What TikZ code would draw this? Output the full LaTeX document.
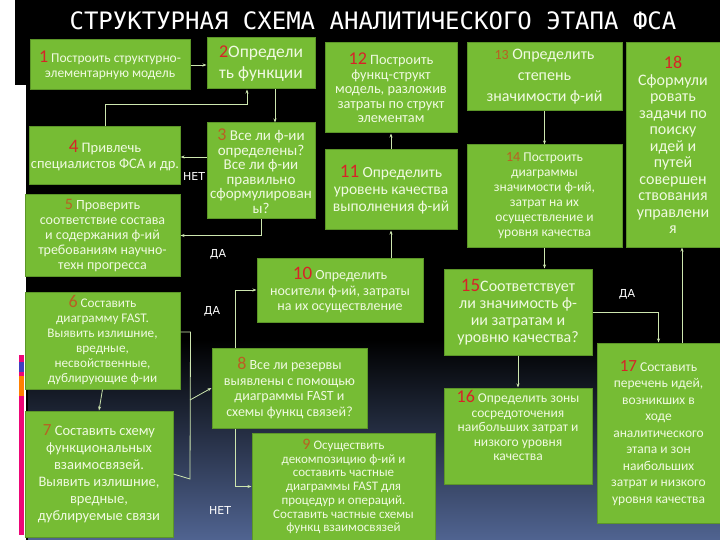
\documentclass[tikz,border=0pt]{standalone}
\usepackage{fontspec}
\setmainfont{Carlito}
\newfontfamily\titlefont{DejaVu Sans Mono}
\newfontfamily\lblfont{DejaVu Sans}
\usetikzlibrary{arrows.meta}
\definecolor{gbox}{RGB}{118,188,52}
\definecolor{gborder}{RGB}{92,150,40}
\definecolor{gtext}{RGB}{240,250,225}
\definecolor{nred}{RGB}{215,35,40}
\definecolor{nbrown}{RGB}{185,95,35}
\definecolor{lnc}{RGB}{205,230,175}
\definecolor{bgblue}{RGB}{80,100,145}
\newcommand\nr[2]{{\color{nred}\fontsize{#1}{#1}\selectfont #2}}
\newcommand\nb[2]{{\color{nbrown}\fontsize{#1}{#1}\selectfont #2}}
\tikzset{
  box/.style={draw=gborder, line width=1pt, fill=gbox, text=gtext, align=center, inner sep=1pt},
  ln/.style={draw=lnc, line width=0.8pt},
  arr/.style={ln, -{Stealth[length=4pt,width=3pt]}},
  lbl/.style={text=white, font=\lblfont\fontsize{11}{11}\selectfont}
}
\begin{document}
\begin{tikzpicture}[x=1pt,y=-1pt]
\useasboundingbox (0,0) rectangle (720,540);
\fill[black] (0,0) rectangle (720,540);
\shade[top color=black, bottom color=bgblue] (28,340) rectangle (720,540);
\fill[white] (0,0) rectangle (15,540);
\fill[white] (15,85) rectangle (26,540);
\fill[black] (15,52) rectangle (26,83);
\fill[magenta!80!red] (19,355) rectangle (24,535);
\fill[orange] (19,376) rectangle (24,396);
\fill[blue!50!gray] (19,362) rectangle (24,372);

\node[text=white, font=\titlefont\fontsize{24}{24}\selectfont] (title) at (373,21) {СТРУКТУРНАЯ СХЕМА АНАЛИТИЧЕСКОГО ЭТАПА ФСА};

\node[box, minimum width=160, minimum height=50, font=\fontsize{13.5}{15}\selectfont] (b1) at (110,65) {\nr{18}{1} Построить структурно-\\элементарную модель};
\node[box, minimum width=108, minimum height=51, font=\fontsize{17.5}{21}\selectfont] (b2) at (261,63.5) {\nr{18}{2}Определи\\ть функции};
\node[box, minimum width=108, minimum height=96, font=\fontsize{15}{14.5}\selectfont] (b3) at (261,171) {\nb{18}{3} Все ли ф-ии\\определены?\\Все ли  ф-ии\\правильно\\сформулирован\\ы?};
\node[box, minimum width=150, minimum height=58, font=\fontsize{14.5}{16}\selectfont] (b4) at (105,156) {\nr{19}{4} Привлечь\\специалистов ФСА и др.};
\node[box, minimum width=155, minimum height=81, font=\fontsize{14}{15}\selectfont] (b5) at (102.5,235.5) {\nb{16}{5} Проверить\\соответствие состава\\и содержания ф-ий\\требованиям научно-\\техн прогресса};
\node[box, minimum width=155, minimum height=97, font=\fontsize{13.2}{15}\selectfont] (b6) at (102.5,340.5) {\nb{18}{6} Составить\\диаграмму FAST.\\Выявить излишние,\\вредные,\\несвойственные,\\дублирующие ф-ии};
\node[box, minimum width=148, minimum height=126, font=\fontsize{14.5}{17}\selectfont] (b7) at (99,474) {\nb{17}{7} Составить схему\\функциональных\\взаимосвязей.\\Выявить излишние,\\вредные,\\дублируемые связи};
\node[box, minimum width=155, minimum height=80, font=\fontsize{14}{15.5}\selectfont] (b8) at (289.5,388) {\nb{18}{8} Все ли резервы\\выявлены с помощью\\диаграммы FAST  и\\схемы функц связей?};
\node[box, minimum width=183, minimum height=107, font=\fontsize{13}{13.7}\selectfont] (b9) at (343.5,486.5) {\nb{16}{9} Осуществить\\декомпозицию ф-ий и\\составить частные\\диаграммы FAST для\\процедур и операций.\\Составить частные схемы\\функц взаимосвязей};
\node[box, minimum width=166, minimum height=64, font=\fontsize{14}{15.5}\selectfont] (b10) at (340,290) {\nr{19}{10} Определить\\носители ф-ий, затраты\\на их осуществление};
\node[box, minimum width=132, minimum height=80, font=\fontsize{15.5}{17}\selectfont] (b11) at (391,190) {\nr{19}{11} Определить\\уровень качества\\выполнения ф-ий};
\node[box, minimum width=132, minimum height=90, font=\fontsize{14.3}{14.5}\selectfont] (b12) at (391,88) {\nr{18}{12} Построить\\функц-структ\\модель, разложив\\затраты по структ\\элементам};
\node[box, minimum width=155, minimum height=68, font=\fontsize{16}{21}\selectfont] (b13) at (544.5,77) {\nb{14}{13} Определить\\степень\\значимости ф-ий};
\node[box, minimum width=155, minimum height=102, font=\fontsize{13.5}{15}\selectfont] (b14) at (544.5,196) {\nb{14}{14} Построить\\диаграммы\\значимости ф-ий,\\затрат на их\\осуществление и\\уровня качества};
\node[box, minimum width=94, minimum height=204, font=\fontsize{16}{16.5}\selectfont] (b18) at (673,145) {\nr{18}{18}\\Сформули\\ровать\\задачи по\\поиску\\идей и\\путей\\совершен\\ствования\\управлени\\я};
\node[box, minimum width=148, minimum height=86, font=\fontsize{16}{17}\selectfont] (b15) at (518,312) {\nr{19}{15}Соответствует\\ли значимость ф-\\ии затратам и\\уровню качества?};
\node[box, minimum width=148, minimum height=96, font=\fontsize{13.5}{14.5}\selectfont] (b16) at (518,436) {\nr{18}{16} Определить зоны\\сосредоточения\\наибольших затрат и\\низкого уровня\\качества\\[6pt]};
\node[box, minimum width=123, minimum height=180, font=\fontsize{13.5}{16.5}\selectfont] (b17) at (658.5,433) {\nr{17}{17} Составить\\перечень идей,\\возникших в\\ходе\\аналитического\\этапа и зон\\наибольших\\затрат и низкого\\уровня качества};

\draw[arr] (b1.east) -- (b1.east -| b2.west);
\draw[arr] (b4.north) -- ++(0,-22) -| ([xshift=-14pt]b2.south);
\draw[arr] ([xshift=14pt]b2.south) -- ([xshift=14pt]b3.north);
\draw[arr] (b3.west |- 0,157) -- (b4.east |- 0,157);
\draw[arr] (b3.south) |- (b5.east);
\draw[arr] (b6.south) -- (b7.north);
\draw[ln] ([yshift=8.5pt]b6.east) -- ++(10,0) coordinate (k1) -- (190,479) -- (b7.east);
\coordinate (k2) at (190,400);
\draw[arr] (k2) -- (b8.west);
\draw[arr] ([xshift=-54.5pt]b8.north) |- (b10.west);
\draw[arr] ([xshift=-54.5pt]b8.south) |- (b9.west);
\draw[arr] ([xshift=51pt]b10.north) -- (b11.south);
\draw[arr] (b11.north) -- (b12.south);
\draw[arr] (b13.south) -- (b14.north);
\draw[arr] (b14.south) -- (b14.south |- b15.north);
\draw[arr] (b15.south) -- (b16.north);
\draw[arr] (b15.east) -| (b17.north);
\draw[arr] ([xshift=23.5pt]b17.north) -- ([xshift=9pt]b18.south);

\node[lbl] (l1) at (194,176) {НЕТ};
\node[lbl] (l2) at (218,254) {ДА};
\node[lbl] (l3) at (212,311) {ДА};
\node[lbl] (l4) at (220,510) {НЕТ};
\node[lbl] (l5) at (627,294) {ДА};
\end{tikzpicture}
\end{document}
